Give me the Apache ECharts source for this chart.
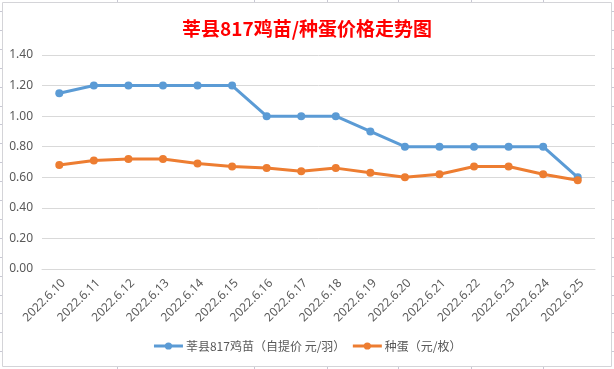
<!DOCTYPE html>
<html><head><meta charset="utf-8">
<script src="https://cdn.jsdelivr.net/npm/echarts@6/dist/echarts.min.js"></script>
<style>html,body{margin:0;padding:0;background:#fff}#c{width:614px;height:369px}</style>
</head><body><div id="c"></div>
<script>
const categories = ["2022.6.10","2022.6.11","2022.6.12","2022.6.13","2022.6.14","2022.6.15","2022.6.16","2022.6.17","2022.6.18","2022.6.19","2022.6.20","2022.6.21","2022.6.22","2022.6.23","2022.6.24","2022.6.25"];
const chickName = "莘县817鸡苗（自提价 元/羽）";
const chickValues = [1.15,1.2,1.2,1.2,1.2,1.2,1.0,1.0,1.0,0.9,0.8,0.8,0.8,0.8,0.8,0.6];
const eggName = "种蛋（元/枚）";
const eggValues = [0.68,0.71,0.72,0.72,0.69,0.67,0.66,0.64,0.66,0.63,0.60,0.62,0.67,0.67,0.62,0.58];
const titleText = "莘县817鸡苗/种蛋价格走势图";

// decorative spreadsheet cell-edge ticks outside the chart frame
const deco = [{type:'rect',shape:{x:2.5,y:2.5,width:609,height:364},style:{fill:'none',stroke:'#d4d4d8',lineWidth:1},silent:true}];
for (let y = 11; y < 369; y += 18.9) {
  deco.push({type:'line',shape:{x1:0,y1:Math.round(y)+0.5,x2:2,y2:Math.round(y)+0.5},style:{stroke:'#c8c8d4',lineWidth:1},silent:true});
  deco.push({type:'line',shape:{x1:612,y1:Math.round(y)+0.5,x2:614,y2:Math.round(y)+0.5},style:{stroke:'#c8c8d4',lineWidth:1},silent:true});
}
[117,254,327,398,471,543].forEach(x=>{
  deco.push({type:'line',shape:{x1:x+0.5,y1:0,x2:x+0.5,y2:2},style:{stroke:'#c8c8d4',lineWidth:1},silent:true});
  deco.push({type:'line',shape:{x1:x+0.5,y1:367,x2:x+0.5,y2:369},style:{stroke:'#c8c8d4',lineWidth:1},silent:true});
});

const chart = echarts.init(document.getElementById('c'), null, {renderer:'canvas'});
const font = '"Noto Sans CJK SC", sans-serif';
chart.setOption({
  backgroundColor:'#fff',
  animation:false,
  graphic:deco,
  title:{text:titleText,left:'center',top:14,textStyle:{color:'#ff0000',fontSize:19,fontWeight:'bold',fontFamily:'"Noto Sans CJK SC", sans-serif'}},
  grid:{left:42,right:19,top:55,bottom:100},
  legend:{bottom:12,left:'center',itemWidth:29,itemHeight:9,itemGap:6,
    lineStyle:{width:3},
    textStyle:{color:'#595959',fontSize:12,fontFamily:font,padding:[0,0,0,-2]},
    data:[chickName,eggName]},
  xAxis:{type:'category',data:categories,boundaryGap:true,
    axisLine:{lineStyle:{color:'#d9d9d9',width:1}},axisTick:{show:false},
    axisLabel:{rotate:45,color:'#595959',fontSize:12,margin:8,interval:0,verticalAlign:'top',fontFamily:'"Noto Sans", sans-serif'}},
  yAxis:{type:'value',min:0,max:1.4,interval:0.2,
    axisLine:{show:false},axisTick:{show:false},
    splitLine:{lineStyle:{color:'#d9d9d9',width:1}},
    axisLabel:{color:'#595959',fontSize:12,margin:9,fontFamily:'"Noto Sans", sans-serif',formatter:v=>v.toFixed(2)}},
  series:[
    {name:chickName,type:'line',data:chickValues,symbol:'circle',symbolSize:8,
      lineStyle:{color:'#5b9bd5',width:3},itemStyle:{color:'#5b9bd5'}},
    {name:eggName,type:'line',data:eggValues,symbol:'circle',symbolSize:8,
      lineStyle:{color:'#ed7d31',width:3},itemStyle:{color:'#ed7d31'}}
  ]
});
</script></body></html>
